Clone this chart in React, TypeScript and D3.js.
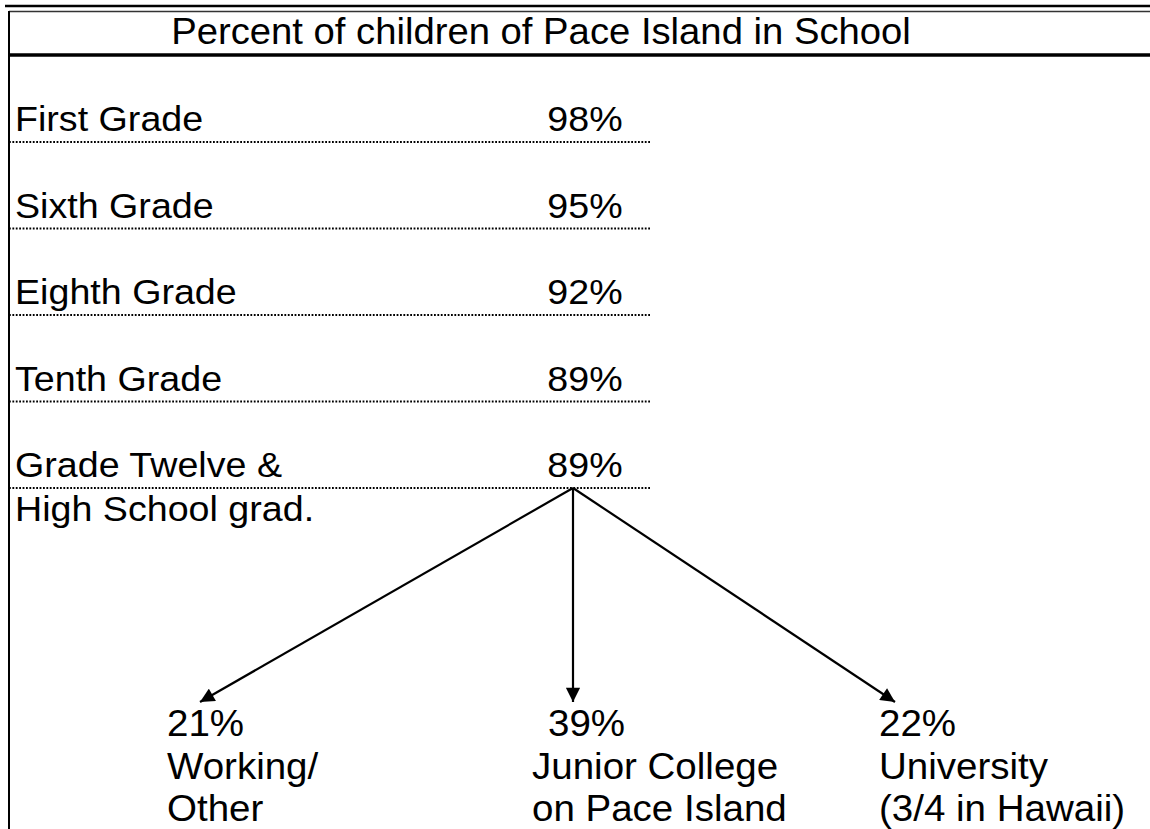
import * as d3 from 'd3';

const title = 'Percent of children of Pace Island in School';

const grades = ['First Grade', 'Sixth Grade', 'Eighth Grade', 'Tenth Grade', 'Grade Twelve &'];
const gradeSubLines = ['', '', '', '', 'High School grad.'];
const gradePercents = [98, 95, 92, 89, 89];

const outcomes = ['work', 'jc', 'uni'];
const outcomePercents = [21, 39, 22];
const outcomeLines = [
  ['Working/', 'Other'],
  ['Junior College', 'on Pace Island'],
  ['University', '(3/4 in Hawaii)'],
];

const W = 1150;
const H = 829;
const FONT = '"Liberation Sans", Arial, Helvetica, sans-serif';

function StretchText({
  x,
  y,
  text,
  size = 35.5,
  sx = 1.06,
  anchor = 'start',
}: {
  x: number;
  y: number;
  text: string;
  size?: number;
  sx?: number;
  anchor?: string;
}) {
  return (
    <g transform={`translate(${x},${y}) scale(${sx},1)`}>
      <text x={0} y={0} fontSize={size} fontFamily={FONT} textAnchor={anchor} fill="#000">
        {text}
      </text>
    </g>
  );
}

export default function App() {
  // rows: the dotted rule under each grade
  const yRow = d3.scalePoint<string>().domain(grades).range([142, 488]);
  const pctX = 585;
  const ruleX0 = 9;
  const ruleX1 = 650;

  const last = grades[grades.length - 1];
  const origin = { x: 573, y: yRow(last)! };

  // outcome columns
  const colX = d3.scaleOrdinal<string, number>().domain(outcomes).range([167, 532, 879]);
  const tipX = d3.scaleOrdinal<string, number>().domain(outcomes).range([200, 573, 895]);
  const tipY = 702;
  const outTop = 736;
  const lineGap = 42.5;

  const arrowLine = d3.line<[number, number]>();

  return (
    <svg
      width={W}
      height={H}
      viewBox={`0 0 ${W} ${H}`}
      style={{ position: 'absolute', left: 0, top: 0, background: '#fff' }}
    >
      <defs>
        <marker
          id="arrow"
          viewBox="0 0 10 10"
          refX={10}
          refY={5}
          markerWidth={7}
          markerHeight={6.5}
          orient="auto"
          markerUnits="strokeWidth"
        >
          <path d="M0,0 L10,5 L0,10 Z" fill="#000" />
        </marker>
      </defs>
      <rect x={0} y={0} width={W} height={H} fill="#fff" />

      {/* frame */}
      <line x1={5} x2={W} y1={6} y2={6} stroke="#000" strokeWidth={2.5} />
      <line x1={9} x2={W} y1={11.5} y2={11.5} stroke="#333" strokeWidth={1.5} />
      <line x1={9} x2={W} y1={55} y2={55} stroke="#000" strokeWidth={3.5} />
      <line x1={9} x2={9} y1={11} y2={H} stroke="#000" strokeWidth={2} />

      <StretchText x={541} y={44} text={title} size={37.5} sx={1.02} anchor="middle" />

      {grades.map((g, i) => {
        const y = yRow(g)!;
        return (
          <g key={g}>
            <line
              x1={ruleX0}
              x2={ruleX1}
              y1={y}
              y2={y}
              stroke="#000"
              strokeWidth={1.8}
              strokeDasharray="1.8,1.6"
            />
            <StretchText x={15} y={y - 11} text={g} />
            {gradeSubLines[i] && <StretchText x={15} y={y - 11 + 44} text={gradeSubLines[i]} />}
            <StretchText x={pctX} y={y - 11} text={`${gradePercents[i]}%`} anchor="middle" />
          </g>
        );
      })}

      {outcomes.map((o, i) => (
        <g key={o}>
          <path
            d={arrowLine([
              [origin.x, origin.y],
              [tipX(o), tipY],
            ])!}
            fill="none"
            stroke="#000"
            strokeWidth={2.2}
            markerEnd="url(#arrow)"
          />
          <StretchText
            x={colX(o) + (o === 'jc' ? 16 : 0)}
            y={outTop}
            text={`${outcomePercents[i]}%`}
            size={36}
            sx={1.07}
          />
          {outcomeLines[i].map((t, j) => (
            <StretchText
              key={t}
              x={colX(o)}
              y={outTop + lineGap * (j + 1)}
              text={t}
              size={36}
              sx={1.07}
            />
          ))}
        </g>
      ))}
    </svg>
  );
}
